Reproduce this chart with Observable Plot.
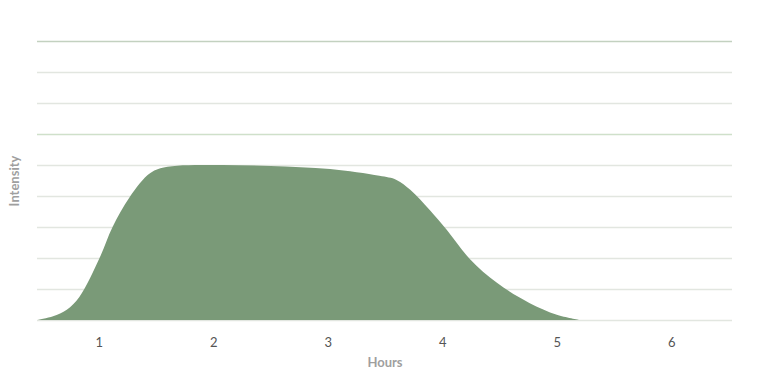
<!DOCTYPE html>
<html>
<head>
<meta charset="utf-8">
<script src="https://cdn.jsdelivr.net/npm/d3@7"></script>
<script src="https://cdn.jsdelivr.net/npm/@observablehq/plot@0.6"></script>
<style>
  html, body { margin: 0; padding: 0; background: #fff; }
  #chart svg { display: block; }
</style>
</head>
<body>
<div id="chart"></div>
<script>
const hours = [0.46, 0.6, 0.72, 0.83, 1.01, 1.12, 1.27, 1.45, 1.6, 2.0, 2.5, 3.02, 3.45, 3.6, 3.72, 3.89, 4.04, 4.24, 4.48, 4.76, 5.0, 5.20];
const intensity = [0, 0.12, 0.33, 0.74, 2.03, 3.0, 3.97, 4.74, 4.94, 5.0, 4.97, 4.87, 4.65, 4.52, 4.2, 3.55, 2.9, 1.97, 1.19, 0.55, 0.17, 0];
const xTicks = [1, 2, 3, 4, 5, 6];
const gridLevels = [0, 1, 2, 3, 4, 5, 7, 8];
const accentLevels = [6];
const topLevel = [9];

const data = hours.map((h, i) => ({hour: h, value: intensity[i]}));

const chart = Plot.plot({
  width: 768,
  height: 373,
  marginLeft: 37,
  marginRight: 36,
  marginTop: 41,
  marginBottom: 53,
  style: {fontFamily: "Lato, sans-serif", fontSize: "13px", color: "#555", background: "#fff"},
  x: {domain: [0.46, 6.53], ticks: xTicks, tickSize: 0, tickPadding: 17, label: "Hours", labelArrow: "none", labelAnchor: "center", labelOffset: 46, tickFormat: d => String(d)},
  y: {domain: [0, 9], ticks: [], label: "Intensity", labelArrow: "none", labelAnchor: "center", labelOffset: 28},
  marks: [
    Plot.ruleY(gridLevels, {stroke: "#e2e6e0", strokeWidth: 1.3}),
    Plot.ruleY(accentLevels, {stroke: "#cfe0ca", strokeWidth: 1.3}),
    Plot.ruleY(topLevel, {stroke: "#c3d1c0", strokeWidth: 1.3}),
    Plot.areaY(data, {x: "hour", y: "value", fill: "#7a9a78", curve: "catmull-rom"})
  ]
});

const svg = d3.select(chart);
svg.selectAll("g[aria-label$='axis label'] text, g[aria-label$='axis label']")
  .attr("fill", "#9f9f9f").style("font-weight", "bold").style("font-size", "13px");
document.getElementById("chart").appendChild(chart);
</script>
</body>
</html>
